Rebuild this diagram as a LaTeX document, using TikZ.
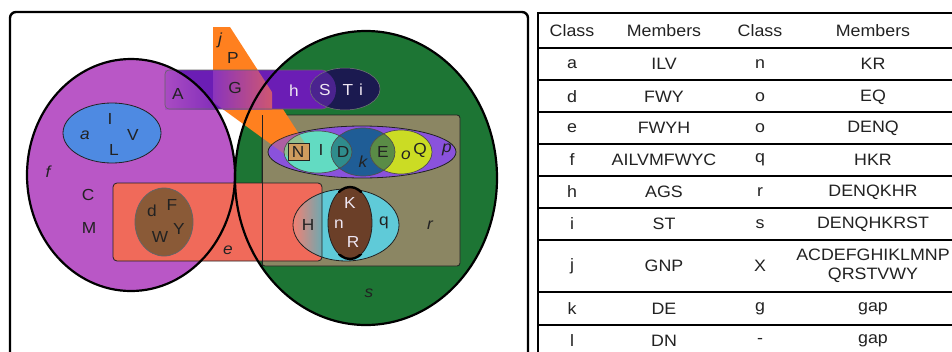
\documentclass[tikz,border=0pt]{standalone}
\usepackage{fontspec}
\setmainfont{Liberation Sans}[FakeStretch=1.08]

\definecolor{fpurple}{HTML}{B957C6}
\definecolor{sgreen}{HTML}{1D7534}
\definecolor{ablue}{HTML}{4E8AE2}
\definecolor{esalmon}{HTML}{F06A5A}
\definecolor{dbrown}{HTML}{8A5A37}
\definecolor{jorange}{HTML}{FF801F}
\definecolor{hviolet}{HTML}{6B1DB5}
\definecolor{inavy}{HTML}{1B1A50}
\definecolor{rolive}{HTML}{8B8663}
\definecolor{ppurple}{HTML}{8A52DC}
\definecolor{lcyan}{HTML}{62DBC2}
\definecolor{kblue}{HTML}{1F5D96}
\definecolor{oyellow}{HTML}{CBDC24}
\definecolor{qcyan}{HTML}{5FCAD8}
\definecolor{nbrown}{HTML}{6B3F28}
\definecolor{sviolet}{HTML}{4B238F}
\definecolor{dteal}{HTML}{2F8C8C}
\definecolor{eolive}{HTML}{5A8C46}
\definecolor{ntan}{HTML}{CF9C5E}
\definecolor{ink}{HTML}{222222}
\definecolor{pale}{HTML}{EEE6F2}

% shapes reused for clipping
\newcommand\shpF{(131,175) ellipse [x radius=104, y radius=116]}
\newcommand\shpS{(366,178) ellipse [x radius=131, y radius=147]}
\newcommand\shpJ{(213,27) -- (230,27) -- (308,148) -- (290,158) -- (213,102) -- cycle}
\newcommand\shpE{[rounded corners=4] (113,183) rectangle (322,261)}
\newcommand\shpQ{(346,225) ellipse [x radius=53, y radius=36]}
\newcommand\shpN{(350,223) ellipse [x radius=22, y radius=36]}
\newcommand\shpP{(362,152) ellipse [x radius=94, y radius=26]}
\newcommand\shpL{(318,152) ellipse [x radius=34, y radius=21]}
\newcommand\shpK{(363,152) ellipse [x radius=32, y radius=24]}
\newcommand\shpO{(401,152) ellipse [x radius=31, y radius=22]}
\newcommand\shpI{(345,89) ellipse [x radius=35, y radius=21]}
\newcommand\shpHend{(318,89.5) ellipse [x radius=18, y radius=19.5]}
\newcommand\shpH{[rounded corners=4] (240,109) -- (165,109) -- (165,70) -- (318,70)
  arc [start angle=-90, end angle=90, x radius=18, y radius=19.5] -- cycle}

\begin{document}
\begin{tikzpicture}[x=1pt,y=-1pt,
  lab/.style={font=\fontsize{16}{16}\selectfont, text=ink, inner sep=0pt},
  ilab/.style={lab, font=\fontsize{16}{16}\selectfont\itshape},
  wlab/.style={lab, text=pale},
  cell/.style={font=\fontsize{16.5}{18}\selectfont, text=ink, inner sep=0pt, align=center},
  rowline/.style={line width=1.8pt, black}]
\useasboundingbox (0,0) rectangle (952,351);

% ---------- Venn panel ----------
\draw[line width=2.4pt, rounded corners=6] (10,12) rectangle (528,370);

\fill[fpurple] \shpF;
\fill[sgreen] \shpS;
\filldraw[fill=ablue, draw=ink, line width=0.8pt] (112,133) ellipse [x radius=49, y radius=30];
\filldraw[fill=rolive, draw=ink, line width=0.8pt, rounded corners=3] (262,115) rectangle (460,266);

% j band
\fill[jorange] \shpJ;

% e box with d
\fill[esalmon] \shpE;
\filldraw[fill=dbrown, draw=ink!70, line width=0.8pt] (164,222) ellipse [x radius=29, y radius=34];

% q ellipse, H part shaded where it meets e
\fill[qcyan] \shpQ;
\begin{scope}
  \clip \shpQ;
  \shade[left color=esalmon!85!white, right color=qcyan!55!gray] (293,185) rectangle (322,265);
\end{scope}
\draw[ink, line width=0.8pt] \shpQ;
\draw[ink, line width=0.8pt] \shpE;
\draw[ink, line width=0.8pt] (262,115) -- (262,266);

% n ellipse
\filldraw[fill=nbrown, draw=ink, line width=0.8pt] \shpN;
\begin{scope}
  \clip (338,183) rectangle (362,192);
  \draw[line width=2.4pt, black] \shpN;
\end{scope}
\begin{scope}
  \clip (338,254) rectangle (362,263);
  \draw[line width=2.4pt, black] \shpN;
\end{scope}

% p ellipse with l, k, o
\filldraw[fill=ppurple, draw=ink, line width=0.8pt] \shpP;
\fill[lcyan] \shpL;
\fill[kblue] \shpK;
\fill[oyellow] \shpO;
\begin{scope}
  \clip \shpL;
  \fill[dteal] \shpK;
\end{scope}
\begin{scope}
  \clip \shpO;
  \fill[eolive] \shpK;
\end{scope}
\begin{scope}
  \clip \shpP;
  \fill[jorange, opacity=0.3] \shpJ;
\end{scope}
\draw[ink!80, line width=0.7pt] \shpL;
\draw[ink!80, line width=0.7pt] \shpK;
\draw[ink!80, line width=0.7pt] \shpO;
\filldraw[fill=ntan, draw=ink, line width=0.8pt] (288,143) rectangle (309,160);

% h band with i
\fill[hviolet] \shpH;
\begin{scope}
  \clip \shpF;
  \shade[left color=fpurple!80!hviolet, right color=hviolet!85!fpurple] (165,70) rectangle (230,109);
\end{scope}
\begin{scope}
  \clip \shpJ;
  \shade[left color=hviolet!60!fpurple, right color=esalmon!75!hviolet] (213,70) rectangle (272,109);
\end{scope}
\draw[ink!70, line width=0.6pt] \shpH;
\fill[inavy] \shpI;
\begin{scope}
  \clip \shpHend;
  \fill[sviolet] \shpI;
\end{scope}
\draw[ink!60, line width=0.5pt] \shpI;

% outer outlines
\draw[line width=2.2pt, black] \shpF;
\draw[line width=2.2pt, black] \shpS;

% labels
\node[ilab] (lj) at (220,40) {j};
\node[lab] (lP) at (233,58) {P};
\node[lab] (lA) at (178,94) {A};
\node[lab] (lG) at (235,88) {G};
\node[wlab] (lh) at (294,91) {h};
\node[wlab] (lS) at (325,90) {S};
\node[wlab] (lT) at (348,90) {T};
\node[wlab] (li) at (361,90) {i};
\node[ilab] (la) at (85,135) {a};
\node[lab] (lI) at (110,119) {I};
\node[lab] (lL) at (114,150) {L};
\node[lab] (lV) at (133,135) {V};
\node[ilab] (lf) at (48,172) {f};
\node[lab] (lC) at (88,195) {C};
\node[lab] (lM) at (89,228) {M};
\node[lab] (ld) at (152,211) {d};
\node[lab] (lF) at (172,205) {F};
\node[lab] (lW) at (160,237) {W};
\node[lab] (lY) at (179,229) {Y};
\node[ilab] (le) at (228,250) {e};
\node[lab] (lN) at (298,152) {N};
\node[lab] (lI2) at (321,150) {I};
\node[lab] (lD) at (343,152) {D};
\node[ilab] (lk) at (363,162) {k};
\node[lab] (lE) at (383,152) {E};
\node[ilab] (lo) at (406,155) {o};
\node[lab] (lQ) at (420,150) {Q};
\node[ilab] (lp) at (447,150) {p};
\node[lab] (lH) at (308,225) {H};
\node[wlab] (lK) at (350,203) {K};
\node[wlab] (ln) at (339,224) {n};
\node[wlab] (lR) at (353,242) {R};
\node[lab] (lq) at (384,223) {q};
\node[ilab] (lr) at (430,225) {r};
\node[ilab] (ls) at (369,293) {s};

% ---------- table ----------
\draw[line width=2.4pt] (538,370) -- (538,13) -- (960,13);
\foreach \yy in {48,80,112,144,176,208,240,292,325}
  \draw[rowline] (538,\yy) -- (960,\yy);

\node[cell] (h1) at (572,31) {Class};
\node[cell] (h2) at (664,31) {Members};
\node[cell] (h3) at (760,31) {Class};
\node[cell] (h4) at (873,31) {Members};

\foreach \row/\yy/\ca/\ma/\cb/\mb in {
  a/64/a/ILV/n/KR,
  d/97/d/FWY/o/EQ,
  e/128/e/FWYH/o/DENQ,
  f/160/f/AILVMFWYC/q/HKR,
  h/192/h/AGS/r/DENQKHR,
  i/224/i/ST/s/DENQHKRST,
  k/309/k/DE/g/gap,
  l/341/l/DN/-/gap} {
  \node[cell] (c1\row) at (572,\yy) {\ca};
  \node[cell] (c2\row) at (664,\yy) {\ma};
  \node[cell] (c3\row) at (760,\yy) {\cb};
  \node[cell] (c4\row) at (873,\yy) {\mb};
}
\node[cell] (c1j) at (572,266) {j};
\node[cell] (c2j) at (664,266) {GNP};
\node[cell] (c3j) at (760,266) {X};
\node[cell, font=\fontsize{16.5}{19}\selectfont] (c4j) at (873,266) {ACDEFGHIKLMNP\\QRSTVWY};
\end{tikzpicture}
\end{document}
